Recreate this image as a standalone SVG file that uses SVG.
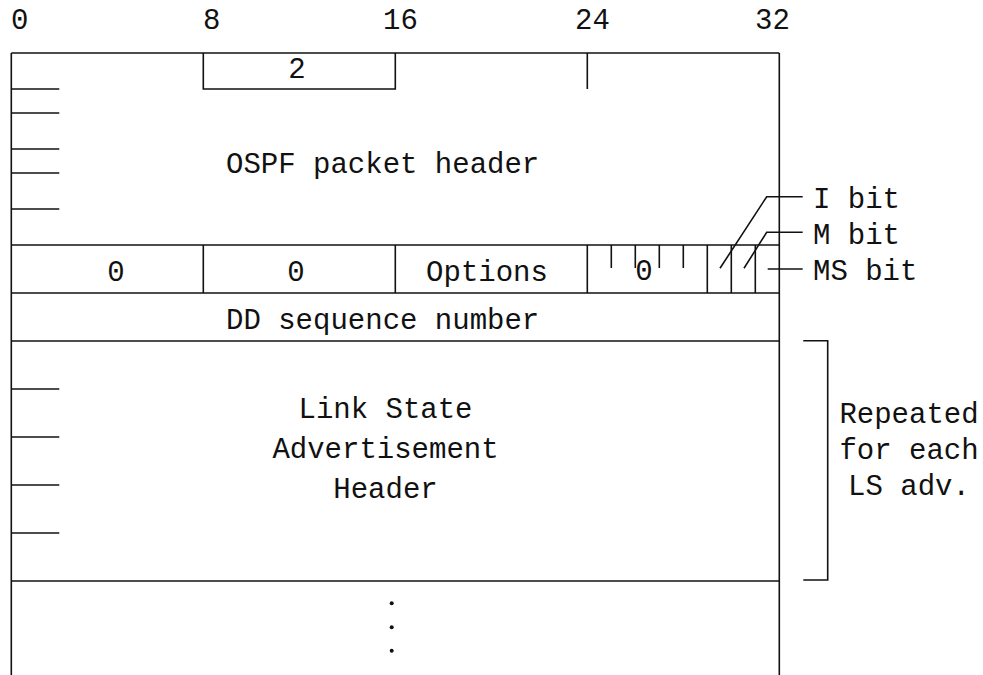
<svg xmlns="http://www.w3.org/2000/svg" width="983" height="675" viewBox="0 0 983 675">
<style>
line, polyline, path { stroke: #111; stroke-width: 1.6; fill: none; }
text { font-family: "Liberation Mono", "Courier New", monospace; font-size: 29px; fill: #111; }
.c { text-anchor: middle; }
.dot { fill: #111; stroke: none; }
</style>
<rect width="983" height="675" fill="#fff"/>
<g id="scale">
  <text x="11" y="29">0</text>
  <text x="203" y="29">8</text>
  <text x="383" y="29">16</text>
  <text x="575" y="29">24</text>
  <text x="755" y="29">32</text>
</g>
<g id="frame">
  <line x1="11.3" y1="53" x2="779.3" y2="53"/>
  <line x1="11.3" y1="53" x2="11.3" y2="675"/>
  <line x1="779.3" y1="53" x2="779.3" y2="675"/>
</g>
<g id="ospf-header">
  <polyline points="203.3,53 203.3,89 395.3,89 395.3,53"/>
  <line x1="587.3" y1="53" x2="587.3" y2="89"/>
  <text class="c" x="297" y="78">2</text>
  <line x1="11.3" y1="89" x2="59.3" y2="89"/>
  <line x1="11.3" y1="113" x2="59.3" y2="113"/>
  <line x1="11.3" y1="149" x2="59.3" y2="149"/>
  <line x1="11.3" y1="173" x2="59.3" y2="173"/>
  <line x1="11.3" y1="209" x2="59.3" y2="209"/>
  <text x="226" y="173">OSPF packet header</text>
</g>
<g id="options-row">
  <line x1="11.3" y1="245" x2="779.3" y2="245"/>
  <line x1="11.3" y1="293" x2="779.3" y2="293"/>
  <line x1="203.3" y1="245" x2="203.3" y2="293"/>
  <line x1="395.3" y1="245" x2="395.3" y2="293"/>
  <line x1="587.3" y1="245" x2="587.3" y2="293"/>
  <line x1="707.3" y1="245" x2="707.3" y2="293"/>
  <line x1="731.3" y1="245" x2="731.3" y2="293"/>
  <line x1="755.3" y1="245" x2="755.3" y2="293"/>
  <line x1="611.3" y1="245" x2="611.3" y2="268"/>
  <line x1="635.3" y1="245" x2="635.3" y2="268"/>
  <line x1="659.3" y1="245" x2="659.3" y2="268"/>
  <line x1="683.3" y1="245" x2="683.3" y2="268"/>
  <text class="c" x="116" y="281">0</text>
  <text class="c" x="296" y="281">0</text>
  <text class="c" x="487" y="281">Options</text>
  <text class="c" x="644" y="280">0</text>
</g>
<g id="dd-seq">
  <line x1="11.3" y1="341" x2="779.3" y2="341"/>
  <text x="226" y="329">DD sequence number</text>
</g>
<g id="lsa-header">
  <line x1="11.3" y1="581" x2="779.3" y2="581"/>
  <line x1="11.3" y1="389" x2="59.3" y2="389"/>
  <line x1="11.3" y1="437" x2="59.3" y2="437"/>
  <line x1="11.3" y1="485" x2="59.3" y2="485"/>
  <line x1="11.3" y1="533" x2="59.3" y2="533"/>
  <text class="c" x="385.5" y="418">Link State</text>
  <text class="c" x="385.5" y="458">Advertisement</text>
  <text class="c" x="385.5" y="498">Header</text>
</g>
<g id="more">
  <circle class="dot" cx="391.7" cy="603.3" r="2"/>
  <circle class="dot" cx="391.7" cy="627.3" r="2"/>
  <circle class="dot" cx="391.7" cy="650.7" r="2"/>
</g>
<g id="connectors">
  <polyline points="720,268.3 766.7,196.7 802.7,196.7"/>
  <polyline points="744,268.3 766.7,232.3 802.7,232.3"/>
  <line x1="767.7" y1="269" x2="802.7" y2="269"/>
  <polyline points="803.3,340.7 827.7,340.7 827.7,580 803.3,580"/>
</g>
<g id="labels">
  <text x="813" y="208">I bit</text>
  <text x="813" y="244">M bit</text>
  <text x="813" y="280">MS bit</text>
  <text class="c" x="909" y="423">Repeated</text>
  <text class="c" x="909" y="459">for each</text>
  <text class="c" x="909" y="495">LS adv.</text>
</g>
</svg>
